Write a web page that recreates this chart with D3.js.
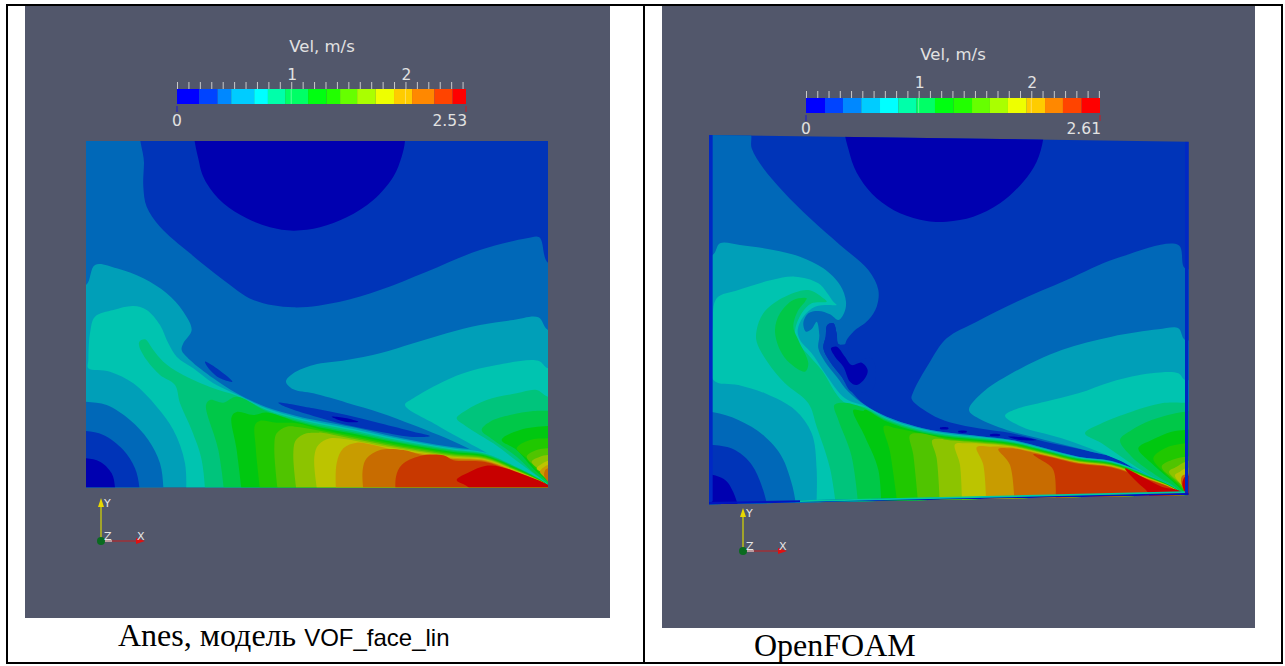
<!DOCTYPE html>
<html>
<head>
<meta charset="UTF-8">
<title>Vel, m/s</title>
<script src="https://cdn.jsdelivr.net/npm/d3@7"></script>
<style>
	html, body { margin: 0; background: #fff; }
	svg { display: block; }
	.bar-label { font-family: "DejaVu Sans", sans-serif; fill: #e2e2e2; }
</style>
</head>
<body>
<div id="chart"></div>
<script>
// velocity levels, same 16 bands in both views
const barColors = ["#0000ff", "#0044ff", "#0088ff", "#00ccff", "#00ffff", "#00ffaa", "#00ff66", "#00ff11",
	"#22ff00", "#66ff00", "#aaff00", "#eeff00", "#ffcc00", "#ff8800", "#ff4400", "#ff0000"];
const fieldColors = ["#0000b0", "#0034b8", "#0068b8", "#009fb8", "#00c4b0", "#00c47c", "#00c848", "#00c810",
	"#20c800", "#50c400", "#8cc400", "#bcc400", "#c89c00", "#c86c00", "#c83800", "#c80000"];
const leftBreaks = [0, .195, .356, .475, .676, .796, .947, 1.148, 1.309, 1.428, 1.577, 1.74, 1.9, 2.058, 2.253, 2.413, 2.53];
const rightBreaks = [0, .169, .328, .491, .657, .82, .98, 1.145, 1.311, 1.474, 1.633, 1.793, 1.959, 2.122, 2.281, 2.447, 2.61];
const leftMax = 2.53;
const rightMax = 2.61;
const barTitle = "Vel, m/s";
const bandDepth = [0, 0, 0, 0, 3.5, 7, 10.5, 14, 17.5, 21, 24.5, 28, 31.5, 35, 38.5, 42];

// ---- Anes view: contour outlines, [level, points]
const leftOutline = [[18, 33], [1404, 33], [1404, 1072], [18, 1072]];
const leftUpper = [
	[1, [[195, -40], [192, 100], [190, 170], [200, 230], [240, 290], [330, 370], [430, 450], [520, 510], [640, 532], [780, 515], [900, 480], [1040, 425], [1200, 360], [1340, 325], [1378, 322], [1404, 398], [1480, 398], [1480, -40]]],
	[0, [[357, -40], [358, 100], [380, 160], [430, 220], [500, 265], [570, 292], [640, 302], [720, 292], [800, 262], [880, 210], [940, 140], [965, 80], [975, 33], [975, -40]]]
];
const leftCorner = [
	[2, [[-40, 815], [18, 815], [80, 825], [150, 870], [205, 930], [240, 1000], [250, 1072], [250, 1140], [-40, 1140]]],
	[1, [[-40, 903], [18, 903], [70, 915], [130, 960], [165, 1015], [178, 1072], [178, 1140], [-40, 1140]]],
	[0, [[-40, 985], [18, 985], [60, 995], [95, 1030], [105, 1072], [105, 1140], [-40, 1140]]]
];
const leftLens = [
	[3, [[618, 755], [640, 730], [700, 705], [800, 690], [900, 670], [1000, 640], [1100, 610], [1200, 585], [1300, 570], [1375, 562], [1404, 600], [1480, 600], [1480, 1120], [1300, 1030], [1155, 950], [1000, 885], [900, 848], [800, 818], [700, 790], [640, 778]]]
];
const leftStreaks = [
	[1, [[375, 695], [410, 715], [457, 755], [420, 745], [390, 720]]],
	[1, [[595, 818], [700, 835], [800, 855], [900, 880], [1000, 905], [1050, 918], [1000, 921], [900, 905], [800, 885], [700, 858], [620, 832]]],
	[0, [[755, 860], [795, 864], [835, 875], [795, 875]]]
];
const leftFan = [
	[4, [[975, 825], [1000, 805], [1070, 765], [1150, 730], [1250, 705], [1375, 692], [1404, 715], [1480, 715], [1480, 1120], [1400, 1062], [1320, 1025], [1210, 963], [1070, 885]]],
	[5, [[1130, 865], [1160, 840], [1220, 810], [1310, 790], [1370, 780], [1404, 800], [1480, 800], [1480, 1100], [1375, 1040], [1320, 1000], [1240, 940], [1160, 890]]],
	[6, [[1205, 900], [1230, 875], [1290, 855], [1360, 843], [1404, 842], [1480, 842], [1480, 1100], [1370, 1035], [1310, 980], [1240, 930]]],
	[7, [[1265, 930], [1320, 900], [1404, 888], [1480, 888], [1480, 1100], [1370, 1025], [1310, 960]]],
	[8, [[1310, 955], [1350, 930], [1404, 925], [1480, 925], [1480, 1100], [1375, 1025], [1340, 985]]],
	[9, [[1340, 980], [1370, 960], [1404, 955], [1480, 955], [1480, 1100], [1380, 1020]]],
	[10, [[1355, 995], [1380, 980], [1404, 975], [1480, 975], [1480, 1100], [1385, 1025]]],
	[11, [[1370, 1015], [1385, 1002], [1404, 992], [1480, 992], [1480, 1100], [1388, 1030]]],
	[12, [[1380, 1025], [1404, 1005], [1480, 1005], [1480, 1100], [1392, 1040]]],
	[13, [[1395, 1022], [1404, 1015], [1480, 1015], [1480, 1100], [1394, 1042]]]
];
// interface crest: x, y, how wide the colour band is there
const leftInterface = [[470, 790, 1], [560, 832, 1.1], [650, 858, 1.25], [720, 873, 1.4], [820, 892, 1.4], [920, 915, 1.25], [1020, 935, 1.1], [1120, 952, 1], [1215, 965, .8], [1300, 1002, .6], [1370, 1040, .3], [1400, 1062, .1]];
const leftFloor = [
	[3, [[-40, 465], [18, 465], [45, 405], [110, 415], [190, 445], [260, 490], [310, 545], [335, 600], [310, 640], [305, 660], [330, 690], [400, 745]]],
	[4, [[317, 1140], [315, 1000], [280, 900], [230, 830], [160, 760], [90, 725], [25, 715], [25, 690], [30, 610], [45, 560], [100, 540], [160, 528], [200, 540], [240, 585], [265, 640], [290, 680], [340, 715], [400, 760]]],
	[5, [[378, 1140], [365, 990], [335, 900], [300, 820], [285, 765], [240, 735], [200, 690], [178, 650], [178, 635], [195, 628], [220, 660], [250, 695], [300, 730], [400, 775]]],
	[6, [[437, 1140], [415, 960], [378, 825], [390, 810], [430, 818]]],
	[7, [[490, 1140], [470, 960], [455, 860], [470, 846], [520, 855]]],
	[8, [[545, 1140], [527, 950], [525, 885], [540, 872], [590, 878]]],
	[9, [[598, 1140], [583, 950], [590, 910], [620, 890], [660, 892]]],
	[10, [[655, 1140], [640, 970], [648, 930], [680, 910], [715, 908]]],
	[11, [[718, 1140], [703, 980], [715, 945], [750, 925], [800, 928]]],
	[12, [[770, 1140], [770, 1000], [790, 955], [830, 938], [880, 945]]],
	[13, [[855, 1140], [848, 1020], [860, 985], [900, 960], [970, 960]]],
	[14, [[950, 1140], [948, 1040], [965, 1005], [1020, 978], [1090, 976]]]
];
const leftRed = [
	[15, [[1130, 1050], [1170, 1025], [1215, 1008], [1260, 1010], [1320, 1030], [1395, 1060], [1450, 1090], [1450, 1140], [1200, 1140], [1165, 1072]]]
];

// ---- OpenFOAM view
const rightOutline = [[27, 30], [1466, 50], [1466, 1110], [27, 1138]];
const rightUpper = [
	[0, [[444, -20], [450, 90], [480, 160], [530, 220], [600, 265], [680, 288], [740, 290], [820, 275], [900, 235], [970, 170], [1010, 110], [1030, 40], [1032, -20]]]
];
const rightLens = [
	[2, [[635, 822], [640, 800], [690, 710], [740, 640], [830, 590], [950, 530], [1100, 465], [1250, 400], [1435, 360], [1455, 430], [1530, 430], [1530, 1180], [1260, 1005], [1175, 980], [1035, 950], [935, 925], [835, 910], [735, 887], [680, 860]]],
	[3, [[807, 855], [845, 805], [935, 745], [1085, 675], [1235, 635], [1375, 613], [1435, 610], [1455, 645], [1530, 645], [1530, 1180], [1255, 1003], [1165, 978], [1035, 945], [920, 915], [835, 880]]]
];
const rightStreaks = [
	[0, [[925, 935], [960, 936], [1010, 945], [960, 945]]],
	[0, [[720, 908], [745, 908], [745, 912], [720, 912]]],
	[0, [[775, 918], [800, 918], [800, 922], [775, 922]]],
	[0, [[870, 928], [900, 928], [900, 932], [870, 932]]]
];
const rightFan = [
	[4, [[915, 872], [955, 850], [1035, 830], [1135, 805], [1235, 770], [1355, 745], [1435, 745], [1455, 765], [1530, 765], [1530, 1180], [1435, 1090], [1355, 1055], [1255, 1005], [1085, 940], [965, 905]]],
	[5, [[1155, 925], [1205, 895], [1295, 860], [1385, 835], [1450, 833], [1530, 833], [1530, 1180], [1385, 1075], [1285, 1010], [1205, 955]]],
	[6, [[1260, 945], [1295, 915], [1355, 885], [1455, 860], [1530, 860], [1530, 1180], [1425, 1085], [1375, 1055], [1295, 995]]],
	[7, [[1315, 970], [1355, 945], [1415, 920], [1457, 915], [1530, 915], [1530, 1180], [1435, 1085], [1355, 1015]]],
	[8, [[1360, 1000], [1395, 970], [1457, 955], [1530, 955], [1530, 1180], [1440, 1085], [1395, 1045]]],
	[9, [[1385, 1025], [1415, 1005], [1457, 995], [1530, 995], [1530, 1180], [1435, 1075]]],
	[10, [[1407, 1040], [1430, 1025], [1457, 1010], [1530, 1010], [1530, 1180], [1440, 1075]]],
	[11, [[1425, 1050], [1440, 1040], [1457, 1030], [1530, 1030], [1530, 1180], [1445, 1080]]],
	[13, [[1445, 1055], [1457, 1048], [1530, 1048], [1530, 1180], [1447, 1085]]],
	[15, [[1447, 1075], [1455, 1055], [1480, 1055], [1480, 1180], [1452, 1098]]]
];
const rightInterface = [[495, 840, 1], [560, 875, 1.05], [650, 905, 1], [735, 922, .9], [835, 933, .8], [935, 945, .7], [1035, 970, .6], [1135, 995, .55], [1235, 1008, .5], [1335, 1045, .4], [1440, 1098, .15]];
const rightFloor = [
	[2, [[-30, 20], [148, 20], [155, 70], [190, 130], [250, 200], [330, 280], [420, 360], [505, 435], [535, 495], [530, 545], [505, 585], [460, 620], [440, 645], [433, 660], [415, 657], [410, 625], [400, 595], [382, 600], [377, 635], [370, 670], [390, 710], [425, 755], [455, 800]]],
	[3, [[-30, 390], [38, 390], [60, 355], [120, 360], [220, 375], [300, 395], [370, 430], [420, 480], [438, 530], [432, 565], [415, 585], [390, 568], [355, 558], [325, 565], [310, 595], [318, 620], [335, 612], [350, 590], [358, 630], [355, 670], [375, 710], [410, 755], [445, 800]]],
	[4, [[347, 1200], [350, 1035], [335, 925], [285, 855], [195, 805], [115, 780], [40, 765], [38, 600], [50, 520], [115, 495], [215, 465], [285, 455], [355, 475], [400, 530], [410, 540], [385, 540], [345, 545], [310, 575], [293, 615], [300, 645], [335, 685], [375, 745], [435, 820]]],
	[5, [[415, 1200], [390, 1030], [350, 905], [325, 835], [255, 775], [205, 715], [170, 650], [170, 615], [190, 565], [245, 520], [325, 495], [370, 520], [380, 530], [335, 535], [305, 565], [285, 620], [295, 655], [330, 695], [365, 735], [430, 830]]],
	[6, [[480, 1200], [455, 995], [415, 885], [403, 840], [435, 833]]],
	[7, [[545, 1200], [535, 1035], [495, 935], [460, 855], [490, 858]]],
	[8, [[600, 1200], [570, 980], [552, 903], [590, 910]]],
	[9, [[660, 1200], [640, 990], [630, 930], [660, 925]]],
	[10, [[722, 1200], [710, 1000], [697, 945], [725, 942]]],
	[11, [[787, 1200], [780, 1020], [765, 958], [800, 955]]],
	[12, [[860, 1200], [850, 1020], [830, 967], [870, 965]]],
	[13, [[945, 1200], [930, 1020], [895, 972], [930, 970]]],
	[14, [[1062, 1200], [1060, 1035], [1020, 1003], [1000, 988]]]
];
const rightCrescent = [
	[6, [[225, 615], [240, 565], [280, 525], [320, 520], [315, 530], [295, 555], [280, 605], [295, 645], [325, 715], [315, 740], [270, 715], [240, 675]]]
];
const rightCorner = [
	[3, [[347, 1200], [350, 1035], [335, 925], [285, 855], [195, 805], [115, 780], [40, 765], [-30, 765], [-30, 1200]]],
	[2, [[-30, 862], [40, 862], [115, 885], [195, 935], [255, 1015], [275, 1200], [-30, 1200]]],
	[1, [[-30, 960], [40, 960], [105, 975], [165, 1035], [195, 1200], [-30, 1200]]],
	[0, [[-30, 1050], [40, 1050], [85, 1075], [115, 1200], [-30, 1200]]]
];
const rightBlob = [
	[1, [[382, 600], [400, 595], [410, 625], [415, 657], [445, 660], [433, 720], [515, 700], [520, 790], [455, 800], [425, 755], [390, 710], [370, 670], [377, 635]]],
	[0, [[393, 670], [410, 665], [435, 695], [455, 720], [485, 713], [503, 735], [495, 760], [470, 780], [450, 770], [430, 725], [405, 695]]]
];
const rightRed = [
	[15, [[1275, 1030], [1335, 1060], [1385, 1085], [1447, 1102], [1490, 1180], [1360, 1180], [1345, 1105], [1315, 1075]]]
];
// thin rim the mesh leaves on three sides
const rimLeft = [[27, 30], [38, 30], [38, 1128], [27, 1138]];
const rimRight = [[1455, 50], [1466, 50], [1466, 1110], [1455, 1102]];
const rimFloor = [[27, 1138], [27, 1131], [1466, 1104], [1466, 1110]];
const rimGlow = [[300, 1126], [1455, 1099], [1455, 1104], [300, 1131]];

const svg = d3.select("#chart").append("svg").attr("width", 1285).attr("height", 666);

const paper = svg.append("g");
paper.append("rect").attr("x", 25).attr("y", 5).attr("width", 585).attr("height", 613).attr("fill", "#52576b");
paper.append("rect").attr("x", 662).attr("y", 5).attr("width", 593).attr("height", 623).attr("fill", "#52576b");
// table frame
paper.append("rect").attr("x", 7).attr("y", 5).attr("width", 1275).attr("height", 658)
	.attr("fill", "none").attr("stroke", "#000").attr("stroke-width", 2);
paper.append("line").attr("x1", 644).attr("x2", 644).attr("y1", 5).attr("y2", 663)
	.attr("stroke", "#000").attr("stroke-width", 2);

const closedCurve = d3.line().curve(d3.curveCatmullRomClosed.alpha(.5));
const closedStraight = d3.line().curve(d3.curveLinearClosed);

const drawField = (id, xScale, yScale, outline, layers) => {
	const place = pts => pts.map(p => [xScale(p[0]), yScale(p[1])]);
	svg.append("clipPath").attr("id", id)
		.append("path").attr("d", closedStraight(place(outline)));
	const g = svg.append("g").attr("clip-path", `url(#${id})`);
	g.selectAll("path")
		.data(layers)
		.enter()
		.append("path")
		.attr("d", d => closedCurve(place(d[1])))
		.attr("fill", d => fieldColors[d[0]]);
	return { g, place };
};

// floor level = its own left edge, then the crest pushed down by its band depth
const floorLayer = (crest, bottom, right) => d => {
	const edge = d[1];
	const lastX = edge[edge.length - 1][0];
	const along = crest.filter(c => c[0] > lastX).map(c => [c[0], c[1] + bandDepth[d[0]] * c[2]]);
	return [d[0], edge.concat(along, [[right, bottom], [edge[0][0], bottom]])];
};

const leftX = d3.scaleLinear().domain([0, 1440]).range([80, 560]);
const leftY = d3.scaleLinear().domain([0, 1110]).range([130, 500]);
const leftLevels = leftFloor.map(floorLayer(leftInterface, 1180, 1500));
drawField("left-field", leftX, leftY, leftOutline, [
	[2, [[-100, -100], [1600, -100], [1600, 1300], [-100, 1300]]],
	...leftUpper,
	leftLevels[0],
	...leftCorner,
	...leftLens,
	...leftStreaks,
	...leftFan,
	...leftLevels.slice(1),
	...leftRed
]);

const rightX = d3.scaleLinear().domain([0, 1500]).range([700, 1200]);
const rightY = d3.scaleLinear().domain([0, 1170]).range([125, 515]);
const rightLevels = rightFloor.map(floorLayer(rightInterface, 1200, 1530));
const right = drawField("right-field", rightX, rightY, rightOutline, [
	[1, [[-100, -100], [1600, -100], [1600, 1300], [-100, 1300]]],
	...rightUpper,
	rightLevels[0],
	...rightBlob,
	rightLevels[1],
	...rightCorner.slice(0, 1),
	...rightLens,
	...rightStreaks,
	...rightFan,
	rightLevels[2],
	...rightCorner.slice(1),
	...rightLevels.slice(3),
	...rightCrescent,
	...rightRed
]);
// rim is straight-edged
[[rimLeft, "#0028c4"], [rimRight, "#0028c4"], [rimFloor, "#0014c0"], [rimGlow, "#00c8a0"]].forEach(r => {
	right.g.append("path").attr("d", closedStraight(right.place(r[0]))).attr("fill", r[1]);
});

const drawBar = (x0, x1, top, tickTop, title, titleX, titleY, max, breaks, labelY, endY) => {
	const x = d3.scaleLinear().domain([0, max]).range([x0, x1]);
	const h = 15;
	const g = svg.append("g");

	g.append("text").attr("class", "bar-label").text(title)
		.attr("x", titleX).attr("y", titleY).attr("text-anchor", "middle").style("font-size", "16.5px");

	g.selectAll("rect")
		.data(barColors)
		.enter()
		.append("rect")
		.attr("x", (d, i) => x(breaks[i]))
		.attr("y", top)
		.attr("width", (d, i) => x(breaks[i + 1]) - x(breaks[i]))
		.attr("height", h)
		.attr("fill", d => d);

	const axis = d3.axisTop(x)
		.tickValues(d3.range(0, max, .1))
		.tickSize(top - tickTop)
		.tickFormat(() => "");
	const axisG = g.append("g").attr("transform", `translate(0, ${top})`).call(axis);
	axisG.select(".domain").remove();
	axisG.selectAll("line").attr("stroke", "#c9c9c9").attr("stroke-width", 1);

	// the two labelled ticks carry on into the bar
	const major = g.selectAll(".major").data([1, 2]).enter();
	major.append("line").attr("x1", d => x(d)).attr("x2", d => x(d)).attr("y1", top).attr("y2", top + h)
		.attr("stroke", "#fff").attr("stroke-opacity", .35);
	major.append("text").attr("class", "bar-label").text(d => d)
		.attr("x", d => x(d) + 1).attr("y", labelY).attr("text-anchor", "middle").style("font-size", "15.5px");

	[[0, barColors[0]], [max, barColors[15]]].forEach(e => {
		g.append("line").attr("x1", x(e[0])).attr("x2", x(e[0])).attr("y1", top + h + 2).attr("y2", top + h + 8)
			.attr("stroke", e[1]).attr("opacity", .7);
	});
	g.append("text").attr("class", "bar-label").text("0")
		.attr("x", x0).attr("y", endY).attr("text-anchor", "middle").style("font-size", "15.5px");
	g.append("text").attr("class", "bar-label").text(max)
		.attr("x", x1 + 1).attr("y", endY).attr("text-anchor", "end").style("font-size", "15.5px");
};

drawBar(177, 466, 89, 82, barTitle, 322, 52, leftMax, leftBreaks, 80, 126);
drawBar(806, 1100, 98, 91, barTitle, 953, 60, rightMax, rightBreaks, 88, 134);

const drawTriad = (ox, oy) => {
	const g = svg.append("g").attr("transform", `translate(${ox}, ${oy})`);
	g.append("line").attr("x1", 0).attr("y1", 0).attr("x2", 0).attr("y2", -36).attr("stroke", "#d8d800").attr("stroke-width", 1.2);
	g.append("path").attr("d", "M-3,-34L3,-34L0,-43Z").attr("fill", "#e8d800");
	g.append("line").attr("x1", 0).attr("y1", 0).attr("x2", 36).attr("y2", 0).attr("stroke", "#c41e1e").attr("stroke-width", 1.2);
	g.append("path").attr("d", "M35,-3L35,3L44,0Z").attr("fill", "#e01010");
	g.append("line").attr("x1", 0).attr("y1", 0).attr("x2", 11).attr("y2", 0).attr("stroke", "#e0e0e0").attr("stroke-width", 1.2);
	g.append("circle").attr("r", 4).attr("fill", "#0a6b1f");
	[["Y", 3, -34], ["Z", 3, -1], ["X", 36, -1]].forEach(t => {
		g.append("text").text(t[0]).attr("x", t[1]).attr("y", t[2])
			.style("font-family", "'DejaVu Sans', sans-serif").style("font-size", "11px").attr("fill", "#e6e6e6");
	});
};
drawTriad(101, 541);
drawTriad(743, 551);

const caption = svg.append("text").attr("x", 118).attr("y", 646)
	.style("font-family", "'Liberation Serif', serif").style("font-size", "32px").attr("fill", "#000");
caption.append("tspan").text("Anes, модель ");
caption.append("tspan").text("VOF_face_lin").style("font-family", "'Liberation Sans', sans-serif").style("font-size", "24px");
svg.append("text").text("OpenFOAM").attr("x", 754).attr("y", 656)
	.style("font-family", "'Liberation Serif', serif").style("font-size", "32px").attr("fill", "#000");
</script>
</body>
</html>
